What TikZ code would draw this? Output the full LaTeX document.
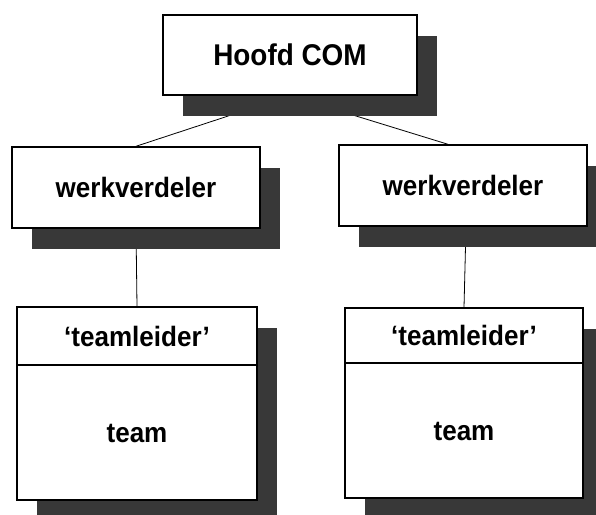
\documentclass[tikz,border=0pt]{standalone}
\usepackage{fontspec}
\setmainfont{Liberation Sans}
\usetikzlibrary{shadows,calc,backgrounds}

% bold labels, set a little narrower than the font is
\newcommand\narrowlabel[1]{\scalebox{0.93}[1]{#1}}

\tikzset{
  label font/.style={font=\bfseries\fontsize{28}{32}\selectfont},
  box/.style={draw,line width=1.4pt,fill=white,inner sep=0pt,label font},
  boxshadow/.style={drop shadow={shadow xshift=20pt,shadow yshift=-21pt,
    fill=black!78,opacity=1}},
  link/.style={line width=0.8pt}
}

\begin{document}
\begin{tikzpicture}[x=1pt,y=1pt]
        \useasboundingbox (0,0) rectangle (596,514);

        % top of the tree
        \node[box,boxshadow,minimum width=254,minimum height=80,font=\bfseries\fontsize{30}{34}\selectfont] (hoofd) at (290,459) {\narrowlabel{Hoofd COM}};

        % second level
        \node[box,boxshadow,minimum width=248,minimum height=81] (wl) at (136,326.5) {\narrowlabel{werkverdeler}};
        \node[box,boxshadow,minimum width=248,minimum height=81] (wr) at (463,328.5) {\narrowlabel{werkverdeler}};

        % teams, left and right
        \node[box,boxshadow,minimum width=240,minimum height=193] (tl) at (137,110.5) {};
        \node[box,anchor=north,minimum width=240,minimum height=58] (tll) at (tl.north) {\narrowlabel{‘teamleider’}};
        \node[label font] (tlt) at ($(tll.south)!.5!(tl.south)$) {\narrowlabel{team}};

        \node[box,boxshadow,minimum width=238,minimum height=190] (tr) at (464,111) {};
        \node[box,anchor=north,minimum width=238,minimum height=55] (trl) at (tr.north) {\narrowlabel{‘teamleider’}};
        \node[label font] (trt) at ($(trl.south)!.5!(tr.south)$) {\narrowlabel{team}};

        % connecting lines, behind the shadows
        \begin{scope}[on background layer]
        \draw[link] (hoofd.south) -- (wl.north);
        \draw[link] (hoofd.south) -- ([xshift=-15pt]wr.north);
        \draw[link] (wl.south) -- (tll.north);
        \draw[link] ([xshift=3pt]wr.south) -- (trl.north);
        \end{scope}
\end{tikzpicture}
\end{document}
